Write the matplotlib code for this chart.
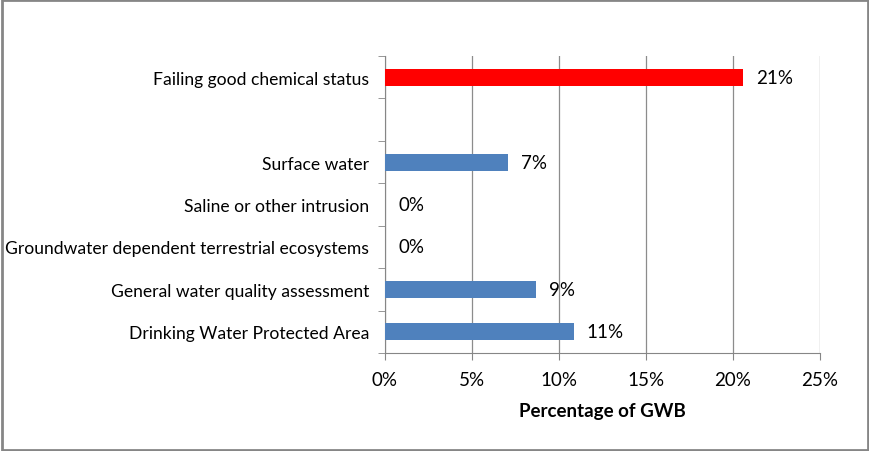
import matplotlib.pyplot as plt
from matplotlib.patches import Rectangle

categories = [
    "Drinking Water Protected Area",
    "General water quality assessment",
    "Groundwater dependent terrestrial ecosystems",
    "Saline or other intrusion",
    "Surface water",
    "",
    "Failing good chemical status",
]
values = [10.85, 8.7, 0.0, 0.0, 7.05, None, 20.55]
labels = ["11%", "9%", "0%", "0%", "7%", "", "21%"]
colors = ["#4f81bd", "#4f81bd", "#4f81bd", "#4f81bd", "#4f81bd", "#4f81bd", "#ff0000"]
xticks = [0, 5, 10, 15, 20, 25]

plt.rcParams["font.family"] = ["Lato", "DejaVu Sans"]

fig = plt.figure(figsize=[8.7, 4.52], dpi=100)
ax = fig.add_axes([385 / 870, 1 - 354 / 452, 435 / 870, 297 / 452])

ypos = list(range(len(categories)))
for y, v, c, lab in zip(ypos, values, colors, labels):
    if v is None:
        continue
    ax.barh(y, v, height=0.4, color=c, zorder=3)
    ax.text(v + 0.75, y, lab, va="center", ha="left", fontsize=13.5, color="black")

ax.set_xlim(0, 25)
ax.set_ylim(-0.5, len(categories) - 0.5)
ax.set_xticks(xticks)
ax.set_xticklabels([f"{t}%" for t in xticks], fontsize=13.5)
ax.set_yticks(ypos)
ax.set_yticklabels(categories, fontsize=12.6)
ax.tick_params(axis="y", length=0, pad=11.5)
ax.set_yticks([y - 0.5 for y in range(len(categories) + 1)], minor=True)
ax.tick_params(axis="y", which="minor", length=5, color="#868686", direction="out")
ax.tick_params(axis="x", length=5, color="#868686", pad=8)
ax.grid(axis="x", color="#8c8c8c", linewidth=0.9, zorder=0)

for side in ["top", "right"]:
    ax.spines[side].set_visible(False)
for side in ["left", "bottom"]:
    ax.spines[side].set_color("#868686")

ax.set_xlabel("Percentage of GWB", fontsize=13.5, fontweight="bold", labelpad=10)

fig.patches.append(Rectangle((0.002, 0.003), 0.996, 0.994, transform=fig.transFigure,
                             fill=False, edgecolor="#868686", linewidth=2))

fig.savefig("out.png", dpi=100)
